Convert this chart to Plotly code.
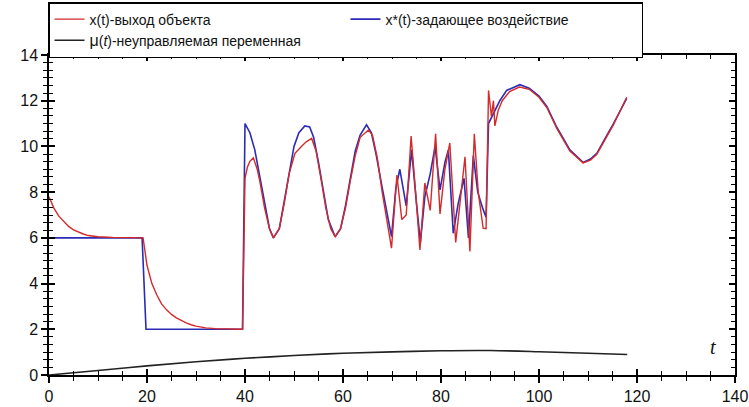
import plotly.graph_objects as go

# x*(t) - reference (blue)
t_ref = [0, 19.0, 19.8, 39.5, 40.0, 41.0, 42.0, 43.0, 44.0, 45.0, 45.8, 47.0, 48.0, 49.0, 50.0,
         51.0, 52.2, 53.2, 54.0, 55.0, 56.0, 57.0, 58.4, 59.5, 60.5, 61.5, 62.5, 63.5, 64.8,
         65.8, 66.8, 68.0, 69.0, 69.9, 70.8, 71.6, 72.9, 74.0, 75.0, 75.8, 76.7, 77.8, 78.8,
         79.8, 80.8, 81.5, 82.5, 83.5, 84.7, 85.6, 86.6, 87.5, 88.5, 89.2, 89.7, 91.0, 92.0,
         93.4, 96.1, 98.0, 100.0, 101.6, 103.6, 106.3, 109.0, 110.5, 111.8, 113.5, 115.2, 117.9]
x_ref = [6.0, 6.0, 2.0, 2.0, 11.0, 10.6, 9.85, 8.7, 7.4, 6.4, 6.0, 6.4, 7.6, 8.9, 10.0,
         10.6, 10.9, 10.85, 10.4, 9.3, 8.0, 6.8, 6.05, 6.4, 7.4, 8.6, 9.8, 10.5, 10.95,
         10.6, 9.6, 8.2, 7.0, 6.05, 8.2, 9.0, 7.4, 9.85, 7.5, 5.8, 7.8, 8.8, 10.0,
         8.1, 9.3, 9.85, 6.2, 7.5, 8.6, 6.0, 9.6, 8.0, 7.3, 6.9, 11.0, 11.6, 12.0,
         12.45, 12.7, 12.55, 12.2, 11.75, 10.85, 9.85, 9.3, 9.45, 9.7, 10.35, 11.0, 12.1]

# x(t) - object output (red)
t_out = [0, 1, 2, 3, 4, 5, 6, 7, 8, 10, 13, 19.2, 20, 21, 22, 23, 24, 25, 26, 27, 28, 29, 30,
         32, 34, 39.5, 40.0, 40.5, 41.0, 41.7, 42.5, 43.0, 44.0, 45.0, 45.8, 47.0, 48.0, 49.0,
         50.2, 51.5, 52.5, 53.6, 54.5, 55.5, 56.5, 57.5, 58.4, 59.5, 60.5, 61.5, 62.5, 63.5,
         65.2, 66.0, 67.0, 68.0, 69.0, 69.9, 71.0, 72.0, 72.9, 73.9, 75.0, 75.7, 76.7, 77.8,
         78.9, 79.8, 80.8, 81.8, 83.0, 84.0, 84.9, 85.9, 86.8, 87.6, 88.6, 89.2, 89.7, 90.3,
         90.7, 91.0, 91.7, 92.5, 94.0, 96.0, 98.0, 100.0, 101.6, 103.6, 106.3, 109.0, 110.5,
         111.8, 113.5, 115.2, 117.9]
x_out = [7.8, 7.3, 6.95, 6.7, 6.5, 6.35, 6.25, 6.17, 6.1, 6.05, 6.02, 6.0, 4.8, 4.0, 3.5, 3.1,
         2.85, 2.65, 2.5, 2.38, 2.28, 2.2, 2.14, 2.06, 2.03, 2.0, 8.6, 9.1, 9.35, 9.5, 9.0, 8.5,
         7.3, 6.4, 6.0, 6.4, 7.5, 8.8, 9.7, 10.0, 10.2, 10.35, 9.8, 8.6, 7.3, 6.4, 6.05, 6.4,
         7.3, 8.5, 9.6, 10.4, 10.72, 10.5, 9.5, 8.0, 6.8, 5.55, 8.75, 6.8, 7.0, 10.45, 7.5,
         5.47, 8.4, 7.2, 10.55, 7.05, 9.0, 10.15, 5.8, 7.8, 9.55, 5.4, 10.55, 8.0, 6.42, 6.4,
         12.45, 11.3, 12.0, 10.9, 11.6, 12.0, 12.4, 12.6, 12.5, 12.15, 11.7, 10.8, 9.8, 9.28,
         9.4, 9.65, 10.3, 10.95, 12.15]

# mu(t) - uncontrolled variable (black)
t_mu = [0, 10, 20, 30, 40, 50, 60, 70, 80, 90, 100, 110, 118]
mu = [0.0, 0.2, 0.4, 0.58, 0.73, 0.85, 0.95, 1.01, 1.06, 1.07, 1.02, 0.95, 0.9]

x_ticks = [0, 20, 40, 60, 80, 100, 120, 140]
y_ticks = [0, 2, 4, 6, 8, 10, 12, 14]

names = ["x(t)-выход объекта", "x*(t)-задающее воздействие",
         "<span style='font-size:16px'>μ</span>(<i>t</i>)-неуправляемая переменная"]

RED = "#d42a2a"
BLUE = "#2b2bb8"
BLACK = "#222222"

fig = go.Figure()
fig.add_trace(go.Scatter(x=t_ref, y=x_ref, mode="lines", name=names[1], legendrank=2,
                         line=dict(color=BLUE, width=1.6)))
fig.add_trace(go.Scatter(x=t_out, y=x_out, mode="lines", name=names[0], legendrank=1,
                         line=dict(color=RED, width=1.4)))
fig.add_trace(go.Scatter(x=t_mu, y=mu, mode="lines", name=names[2], legendrank=3,
                         line=dict(color=BLACK, width=1.6), line_shape="spline"))
# invisible carrier so the inner-tick overlay axes get drawn
fig.add_trace(go.Scatter(x=t_mu, y=mu, mode="lines", xaxis="x2", yaxis="y2", showlegend=False,
                         hoverinfo="skip", line=dict(color="rgba(0,0,0,0)", width=0)))

tickfont = dict(family="Liberation Sans, Arial, sans-serif", size=16, color="#111")

fig.update_layout(
    width=749, height=407,
    margin=dict(l=49, r=14, t=55, b=32, autoexpand=False),
    paper_bgcolor="white", plot_bgcolor="white",
    showlegend=True,
    legend=dict(orientation="h", x=-1/686, xanchor="left", y=1 + 53/320, yanchor="top",
                bordercolor="black", borderwidth=1.5, bgcolor="white",
                entrywidth=251, entrywidthmode="pixels", itemwidth=30,
                font=dict(family="Liberation Sans, Arial", size=14, color="#111"),
                tracegroupgap=0),
    xaxis=dict(range=[0, 140], tickvals=x_ticks, showgrid=False, zeroline=False, automargin=False,
               showline=True, linecolor="black", linewidth=1.5, mirror=False,
               ticks="outside", ticklen=6, tickwidth=1.5, tickcolor="black", tickfont=tickfont,
               minor=dict(dtick=5, ticks="outside", ticklen=4, tickwidth=1.2, tickcolor="black", showgrid=False)),
    xaxis2=dict(range=[0, 140], overlaying="x", side="bottom", anchor="y2", tickvals=x_ticks,
                showticklabels=False, showgrid=False, zeroline=False, automargin=False,
                showline=True, linecolor="black", linewidth=1.5, mirror="ticks",
                ticks="inside", ticklen=6, tickwidth=1.5, tickcolor="black",
                minor=dict(dtick=5, ticks="inside", ticklen=4, tickwidth=1.2, tickcolor="black", showgrid=False)),
    yaxis=dict(range=[0, 14], tickvals=y_ticks, showgrid=False, zeroline=False, automargin=False,
               showline=True, linecolor="black", linewidth=1.5, mirror=False,
               ticks="outside", ticklen=6, tickwidth=1.5, tickcolor="black", tickfont=tickfont,
               minor=dict(dtick=2/6, ticks="outside", ticklen=4, tickwidth=1.2, tickcolor="black", showgrid=False)),
    yaxis2=dict(range=[0, 14], overlaying="y", side="left", anchor="x2", tickvals=y_ticks,
                showticklabels=False, showgrid=False, zeroline=False, automargin=False,
                showline=True, linecolor="black", linewidth=1.5, mirror="ticks",
                ticks="inside", ticklen=6, tickwidth=1.5, tickcolor="black",
                minor=dict(dtick=2/6, ticks="inside", ticklen=4, tickwidth=1.2, tickcolor="black", showgrid=False)),
    annotations=[dict(x=135.5, y=1.22, xref="x", yref="y", text="<i>t</i>", showarrow=False,
                      font=dict(family="Liberation Serif, Times New Roman, serif", size=20, color="#111"))],
)

fig.write_html("out.html", config={"displayModeBar": False},
               post_script="document.body.style.margin='0';document.body.style.overflow='hidden';")
